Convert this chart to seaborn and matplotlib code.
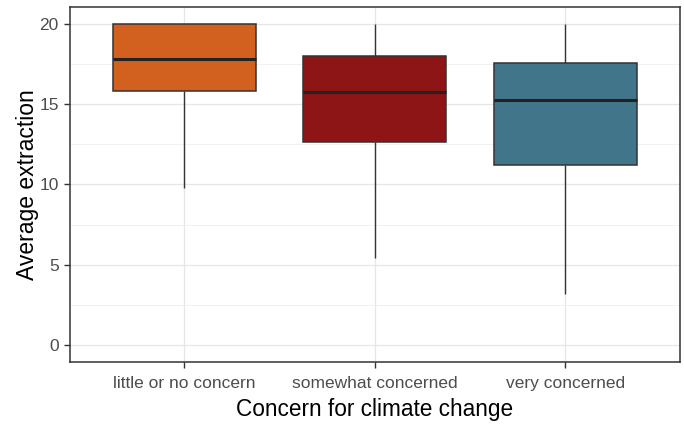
import numpy as np
import pandas as pd
import matplotlib
matplotlib.use("Agg")
import matplotlib.pyplot as plt
from matplotlib.ticker import MultipleLocator
import seaborn as sns

# Five-number summaries of average extraction per concern group
categories = ["little or no concern", "somewhat concerned", "very concerned"]
whisker_low = [9.8, 5.4, 3.2]
q1 = [15.8, 12.65, 11.2]
median = [17.8, 15.75, 15.25]
q3 = [20.0, 18.0, 17.55]
whisker_high = [20.0, 20.0, 20.0]
colors = ["#D2601F", "#8E1515", "#41768A"]

rows = []
for cat, lo, a, m, b, hi in zip(categories, whisker_low, q1, median, q3, whisker_high):
    for v in (lo, a, m, b, hi):
        rows.append({"concern": cat, "extraction": v})
df = pd.DataFrame(rows)

sns.set_theme(style="white")
plt.rcParams["font.family"] = ["Liberation Sans", "DejaVu Sans"]

fig = plt.figure(figsize=(6.84, 4.25), dpi=100)
ax = fig.add_axes([0.102, 0.148, 0.892, 0.836])

dark = "#333333"
sns.boxplot(
    data=df, x="concern", y="extraction", hue="concern",
    order=categories, hue_order=categories, palette=colors,
    whis=np.inf, width=0.75, showcaps=False, saturation=1,
    legend=False, ax=ax,
    boxprops=dict(edgecolor=dark, linewidth=1.1),
    whiskerprops=dict(color=dark, linewidth=1.0),
    medianprops=dict(color="#222222", linewidth=2.2),
    zorder=3,
)

ax.set_xlim(-0.6, 2.6)
ax.set_ylim(-1.05, 21.05)
ax.yaxis.set_major_locator(MultipleLocator(5))
ax.yaxis.set_minor_locator(MultipleLocator(2.5))
ax.grid(True, which="major", color="#E6E6E6", linewidth=0.9, zorder=0)
ax.grid(True, which="minor", axis="y", color="#EFEFEF", linewidth=0.6, zorder=0)
ax.set_axisbelow(True)

for s in ax.spines.values():
    s.set_visible(True)
    s.set_color(dark)
    s.set_linewidth(1.1)

ax.tick_params(axis="both", which="major", length=4, width=1.0, color=dark,
               labelsize=12.5, labelcolor="#4D4D4D", pad=4, direction="out",
               bottom=True, left=True)
ax.tick_params(axis="x", which="major", pad=6)
ax.tick_params(axis="y", which="minor", length=0)

ax.set_xlabel("Concern for climate change", fontsize=16.3, color="black", labelpad=5)
ax.set_ylabel("Average extraction", fontsize=16.5, color="black", labelpad=0)

fig.savefig("out.png", dpi=100)
